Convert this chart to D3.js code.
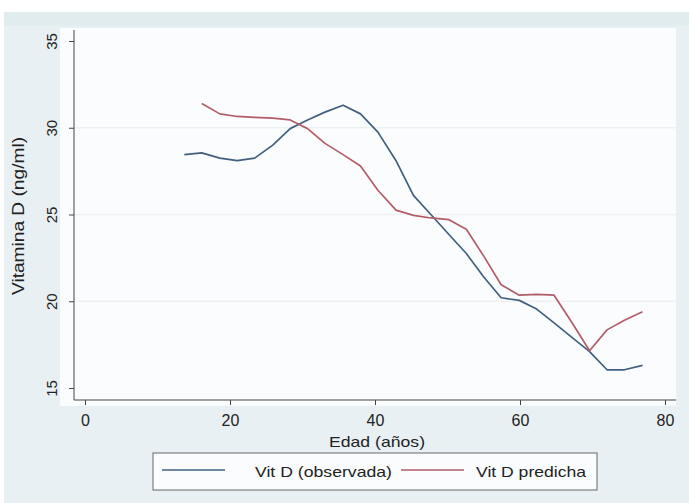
<!DOCTYPE html>
<html>
<head>
<meta charset="utf-8">
<script src="https://d3js.org/d3.v7.min.js"></script>
<style>
  body { margin: 0; background: #fff; }
  svg { display: block; font-family: "Liberation Sans", Arial, sans-serif; }
</style>
</head>
<body>
<svg width="689" height="503"></svg>
<script>
// edades (años) de cada punto
const edades = [13.7, 16.1, 18.6, 21.0, 23.4, 25.9, 28.3, 30.7, 33.1, 35.6, 38.0, 40.4, 42.9, 45.3,
                47.7, 50.2, 52.6, 55.0, 57.4, 59.9, 62.3, 64.7, 67.2, 69.6, 72.0, 74.4, 76.9];
const observada = [28.45, 28.55, 28.25, 28.1, 28.25, 29.0, 29.95, 30.45, 30.9, 31.3, 30.8, 29.75, 28.1, 26.1,
                   25.0, 23.85, 22.75, 21.4, 20.2, 20.05, 19.55, 18.75, 17.9, 17.1, 16.05, 16.05, 16.3];
const predicha = [null, 31.4, 30.8, 30.65, 30.6, 30.55, 30.45, 29.95, 29.1, 28.45, 27.8, 26.4, 25.25, 24.95,
                  24.8, 24.7, 24.15, 22.6, 20.95, 20.35, 20.4, 20.35, 18.75, 17.15, 18.35, 18.9, 19.4];
const xTicks = [0, 20, 40, 60, 80];
const yTicks = [15, 20, 25, 30, 35];
const series = [
  { name: "Vit D (observada)", values: observada, color: "#41607f", len: 137 },
  { name: "Vit D predicha", values: predicha, color: "#b25d69", len: 110 }
];

const svg = d3.select("svg");

// fondo del grafico (estilo Stata)
svg.append("rect").attr("x", 4).attr("y", 12).attr("width", 685).attr("height", 491).attr("fill", "#e9f0f3");
svg.append("rect").attr("x", 4).attr("y", 12).attr("width", 685).attr("height", 14).attr("fill", "#e1ecef");
svg.append("rect").attr("x", 60).attr("y", 28).attr("width", 616).attr("height", 378).attr("fill", "#fbfcfd");

const x = d3.scaleLinear().domain([0, 80]).range([85, 665]);
const y = d3.scaleLinear().domain([15, 35]).range([388, 41]);

// lineas de cuadricula
svg.append("g").selectAll("line").data([20, 25, 30]).join("line")
  .attr("x1", 74).attr("x2", 676)
  .attr("y1", d => y(d)).attr("y2", d => y(d))
  .attr("stroke", "#eef2f4").attr("stroke-width", 1.5);

// eje y
const yAxis = svg.append("g").attr("transform", "translate(74,0)")
  .call(d3.axisLeft(y).tickValues(yTicks).tickSize(5).tickFormat(d3.format("d")));
yAxis.select(".domain").attr("d", "M0,30V400");
yAxis.selectAll("line, path").attr("stroke", "#444");
yAxis.selectAll("text")
  .attr("x", 0).attr("y", 0).attr("dy", 0)
  .attr("transform", "translate(-17,0) rotate(-90)")
  .attr("text-anchor", "middle")
  .attr("font-size", 15).attr("fill", "#222");

// eje x
const xAxis = svg.append("g").attr("transform", "translate(0,400)")
  .call(d3.axisBottom(x).tickValues(xTicks).tickSize(5).tickFormat(d3.format("d")));
xAxis.select(".domain").attr("d", "M74,0H676");
xAxis.selectAll("line, path").attr("stroke", "#444");
xAxis.selectAll("text").attr("font-size", 16).attr("fill", "#222").attr("y", 26).attr("dy", 0);

// titulos
svg.append("text").attr("x", 377).attr("y", 447).attr("text-anchor", "middle")
  .attr("font-size", 15).attr("textLength", 96).attr("lengthAdjust", "spacingAndGlyphs")
  .attr("fill", "#222").text("Edad (años)");
svg.append("text").attr("transform", "translate(24,216) rotate(-90)").attr("text-anchor", "middle")
  .attr("font-size", 17).attr("textLength", 158).attr("lengthAdjust", "spacingAndGlyphs")
  .attr("fill", "#222").text("Vitamina D (ng/ml)");

// lineas
const line = d3.line()
  .defined(d => d[1] != null)
  .x(d => x(d[0])).y(d => y(d[1]));
series.forEach(s => {
  svg.append("path")
    .datum(edades.map((e, i) => [e, s.values[i]]))
    .attr("d", line)
    .attr("fill", "none").attr("stroke", s.color).attr("stroke-width", 1.7)
    .attr("stroke-linejoin", "round");
});

// leyenda
const leg = svg.append("g");
leg.append("rect").attr("x", 153).attr("y", 453).attr("width", 444).attr("height", 37)
  .attr("fill", "#fbfcfd").attr("stroke", "#666").attr("stroke-width", 1);
const legPos = [{ lx: 162, tx: 255 }, { lx: 401, tx: 476 }];
series.forEach((s, i) => {
  leg.append("line").attr("x1", legPos[i].lx).attr("x2", legPos[i].lx + 63)
    .attr("y1", 470).attr("y2", 470).attr("stroke", s.color).attr("stroke-width", 1.7);
  leg.append("text").attr("x", legPos[i].tx).attr("y", 477)
    .attr("font-size", 15).attr("textLength", s.len).attr("lengthAdjust", "spacingAndGlyphs")
    .attr("fill", "#222").text(s.name);
});
</script>
</body>
</html>
